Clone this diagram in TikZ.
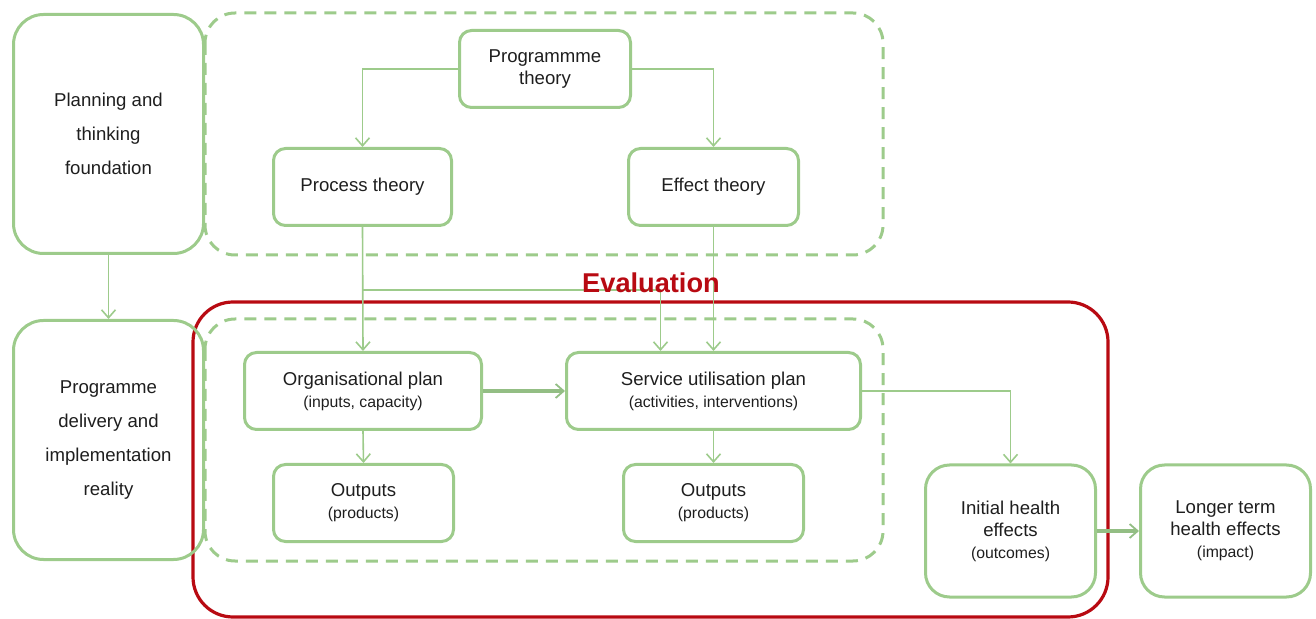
\documentclass[tikz,border=0pt]{standalone}
\usepackage{fontspec}
\setmainfont{Liberation Sans}
\usetikzlibrary{arrows.meta}
\definecolor{leaf}{HTML}{9DCB8B}
\definecolor{leafdark}{HTML}{93BE84}
\definecolor{evalred}{HTML}{B80A12}
\definecolor{ink}{HTML}{1E1E1E}
\newcommand{\sub}[1]{{\fontsize{7.9}{11}\selectfont #1}}
\begin{document}
\begin{tikzpicture}[x=0.5pt,y=-0.5pt,
  box/.style={draw=leaf,line width=1.5pt,rounded corners=6pt,align=center,
    text=ink,font=\fontsize{9.3}{11}\selectfont,inner sep=0pt},
  bigbox/.style={box,rounded corners=15pt,font=\fontsize{9.3}{17}\selectfont},
  sz/.style 2 args={minimum width={(#1-3)*0.5pt},minimum height={(#2-3)*0.5pt}},
  group/.style={draw=leaf,line width=1.5pt,dash pattern=on 6pt off 4pt,rounded corners=15pt},
  conn/.style={draw=leaf,line width=0.8pt,-{Straight Barb[length=4pt,width=7pt,line width=0.8pt]}},
  flow/.style={draw=leafdark,line width=1.6pt,-{Straight Barb[length=4pt,width=7pt,line width=0.9pt]}},
  evalframe/.style={draw=evalred,line width=1.6pt,rounded corners=20pt}
]
\useasboundingbox (0,0) rectangle (1316,619);

% evaluation frame and the two dashed groupings
\draw[evalframe] (193,302) rectangle (1108,617);
\draw[group] (205,13) rectangle (883,255);
\draw[group] (205,319) rectangle (883,561);

% side boxes
\node[bigbox,sz={193}{242}] (plan) at (108.5,134) {Planning and\\thinking\\foundation};
\node[bigbox,sz={193}{242}] (deliv) at (108.5,440) {Programme\\delivery and\\implementation\\reality};

% theory boxes
\node[box,sz={174}{80}] (prog) at (545,69) {Programmme\\theory};
\node[box,sz={181}{80}] (proc) at (362.5,187) {Process theory};
\node[box,sz={173}{80}] (eff) at (713.5,187) {Effect theory};

% plans and outputs
\node[box,sz={240}{80}] (org) at (363,391) {Organisational plan\\\sub{(inputs, capacity)}};
\node[box,sz={297}{80}] (svc) at (713.5,391) {Service utilisation plan\\\sub{(activities, interventions)}};
\node[box,sz={183}{80}] (out1) at (363.5,503) {Outputs\\\sub{(products)}};
\node[box,sz={183}{80}] (out2) at (713.5,503) {Outputs\\\sub{(products)}};

% health effects
\node[box,rounded corners=12pt,sz={173}{135}] (init) at (1010.5,531) {Initial health\\effects\\\sub{(outcomes)}};
\node[box,rounded corners=12pt,sz={173}{135}] (long) at (1225.5,531) {Longer term\\health effects\\\sub{(impact)}};

% connectors
\coordinate (split) at (362.5,290);
\coordinate (svcin) at ([xshift=-26.5pt]svc.north);
\draw[conn] (prog.west) -| (proc.north);
\draw[conn] (prog.east) -| (eff.north);
\draw[conn] (plan.south) -- (deliv.north);
\draw[conn] (proc.south) -- (org.north);
\draw[conn] (split) -| (svcin);
\draw[conn] (eff.south) -- (svc.north);
\draw[conn] (org.south) -- (out1.north);
\draw[conn] (svc.south) -- (out2.north);
\draw[conn] (svc.east) -| (init.north);
\draw[flow] (org.east) -- (svc.west);
\draw[flow] (init.east) -- (long.west);

% frame title, set over the connector lines
\node[text=evalred,font=\bfseries\fontsize{13.6}{16}\selectfont] (evallabel) at (651,283) {Evaluation};
\end{tikzpicture}
\end{document}
